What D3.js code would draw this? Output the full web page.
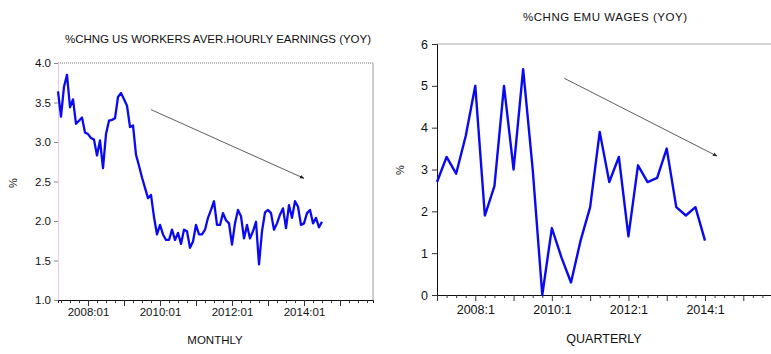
<!DOCTYPE html>
<html>
<head>
<meta charset="utf-8">
<script src="https://cdn.jsdelivr.net/npm/d3@7"></script>
<style>
  body { margin: 0; background: #fff; }
  svg { display: block; font-family: "Liberation Sans", Arial, sans-serif; }
</style>
</head>
<body>
<svg width="771" height="354"></svg>
<script>
// data: US average hourly earnings, % yoy, monthly from 2007:03
const usStart = [2007, 3];
const usEarnings = [
  3.64, 3.32, 3.70, 3.85, 3.44, 3.54, 3.23, 3.27, 3.31, 3.12,
  3.10, 3.05, 3.03, 2.83, 3.02, 2.67, 3.10, 3.27, 3.28, 3.30,
  3.57, 3.62, 3.54, 3.46, 3.19, 3.21, 2.84, 2.70, 2.55, 2.42,
  2.29, 2.33, 2.05, 1.83, 1.95, 1.83, 1.76, 1.76, 1.89, 1.76,
  1.85, 1.71, 1.89, 1.87, 1.66, 1.74, 1.95, 1.83, 1.83, 1.89,
  2.04, 2.14, 2.25, 1.95, 1.95, 2.10, 2.01, 1.97, 1.70, 1.97,
  2.14, 2.06, 1.78, 1.95, 1.78, 1.87, 1.99, 1.45, 1.87, 2.11,
  2.14, 2.10, 1.89, 1.97, 2.08, 2.16, 1.91, 2.20, 2.04, 2.25,
  2.18, 1.95, 1.97, 2.10, 2.14, 1.97, 2.04, 1.92, 1.99
];
const usYTicks = [1.0, 1.5, 2.0, 2.5, 3.0, 3.5, 4.0];
const usXLabels = ["2008:01", "2010:01", "2012:01", "2014:01"];
const usEnd = [2015, 12];
// arrow annotation, [period, value]
const usArrow = [[[2009, 10], 3.41], [[2014, 1], 2.54]];

// data: EMU wages, % yoy, quarterly from 2007:1
const emuStart = [2007, 1];
const emuWages = [
  2.7, 3.3, 2.9, 3.8, 5.0, 1.9, 2.6, 5.0, 3.0, 5.4,
  3.0, 0.0, 1.6, 0.9, 0.3, 1.3, 2.1, 3.9, 2.7, 3.3,
  1.4, 3.1, 2.7, 2.8, 3.5, 2.1, 1.9, 2.1, 1.3
];
const emuYTicks = [0, 1, 2, 3, 4, 5, 6];
const emuXLabels = ["2008:1", "2010:1", "2012:1", "2014:1"];
const emuEnd = [2015, 4];
const emuArrow = [[[2010, 2.3], 5.18], [[2014, 2.26], 3.32]];

const svg = d3.select("svg");
const blue = "#0a0af0";

// arrowhead
svg.append("defs").append("marker")
  .attr("id", "head")
  .attr("viewBox", "0 0 10 10")
  .attr("refX", 9).attr("refY", 5)
  .attr("markerWidth", 6).attr("markerHeight", 6)
  .attr("orient", "auto")
  .append("path").attr("d", "M0,1 L10,5 L0,9 z").attr("fill", "#222");

//month / quarter index helpers
const mIdx = p => (p[0] - usStart[0]) * 12 + (p[1] - usStart[1]);
const qIdx = p => (p[0] - emuStart[0]) * 4 + (p[1] - emuStart[1]);
const parseLabel = s => s.split(":").map(Number);


// ---------- left panel: monthly ----------
const xL = d3.scaleLinear().domain([0, mIdx(usEnd)]).range([58, 373]);
const yL = d3.scaleLinear().domain([1, 4]).range([300, 63]);

svg.append("text")
  .attr("x", 218).attr("y", 43)
  .attr("text-anchor", "middle")
  .attr("font-size", 11.5)
  .attr("textLength", 306)
  .attr("fill", "#111")
  .text("%CHNG US WORKERS AVER.HOURLY EARNINGS (YOY)");

// frame: dotted top, grey right
svg.append("line")
  .attr("x1", xL.range()[0]).attr("x2", xL.range()[1])
  .attr("y1", yL(4)).attr("y2", yL(4))
  .attr("stroke", "#777").attr("stroke-dasharray", "1,1");
svg.append("line")
  .attr("x1", xL.range()[1]).attr("x2", xL.range()[1])
  .attr("y1", yL(4)).attr("y2", yL(1))
  .attr("stroke", "#999");

var gyL = svg.append("g")
  .attr("transform", `translate(${xL.range()[0]},0)`)
  .call(d3.axisLeft(yL).tickValues(usYTicks).tickFormat(d3.format(".1f")).tickSize(4).tickPadding(3));
gyL.select(".domain").attr("stroke", "#e8c6ee");
gyL.selectAll(".tick line").attr("stroke", "#888");
gyL.selectAll(".tick text").attr("font-size", 11.5).attr("fill", "#111").attr("font-family", null);

var usQuarterTicks = d3.range(0, mIdx(usEnd) + 1).filter(i => ((usStart[1] - 1 + i) % 3) === 0);
var usLabelIdx = usXLabels.map(s => mIdx(parseLabel(s)));
var gxL = svg.append("g")
  .attr("transform", `translate(0,${yL(1)})`)
  .call(d3.axisBottom(xL).tickValues(usQuarterTicks).tickSizeOuter(0).tickSize(3).tickPadding(6)
    .tickFormat(i => { var k = usLabelIdx.indexOf(i); return k > -1 ? usXLabels[k] : ""; }));
gxL.select(".domain").attr("stroke", "#111");
gxL.selectAll(".tick line")
  .attr("stroke", "#333")
  .attr("y2", i => ((usStart[1] - 1 + i) % 12) === 0 ? 6 : 3);
gxL.selectAll(".tick text").attr("font-size", 11.5).attr("fill", "#111").attr("font-family", null).attr("dy", "0.65em");

svg.append("text")
  .attr("transform", `translate(17,183) rotate(-90)`)
  .attr("text-anchor", "middle").attr("font-size", 11).attr("fill", "#111")
  .text("%");
svg.append("text")
  .attr("x", 215).attr("y", 344)
  .attr("text-anchor", "middle").attr("font-size", 11.5).attr("fill", "#111")
  .text("MONTHLY");

svg.append("path")
  .datum(usEarnings)
  .attr("fill", "none")
  .attr("stroke", blue)
  .attr("stroke-width", 2.3)
  .attr("stroke-linejoin", "round")
  .attr("d", d3.line().x((d, i) => xL(i)).y(d => yL(d)));

svg.append("line")
  .attr("x1", xL(mIdx(usArrow[0][0]))).attr("y1", yL(usArrow[0][1]))
  .attr("x2", xL(mIdx(usArrow[1][0]))).attr("y2", yL(usArrow[1][1]))
  .attr("stroke", "#333").attr("stroke-width", 0.8)
  .attr("marker-end", "url(#head)");


// ---------- right panel: quarterly ----------
const xR = d3.scaleLinear().domain([0, qIdx(emuEnd)]).range([437, 772]);
const yR = d3.scaleLinear().domain([0, 6]).range([295, 44]);

svg.append("text")
  .attr("x", 605).attr("y", 21)
  .attr("text-anchor", "middle")
  .attr("font-size", 11.5)
  .attr("textLength", 164)
  .attr("fill", "#111")
  .text("%CHNG EMU WAGES (YOY)");

svg.append("line")
  .attr("x1", xR.range()[0]).attr("x2", xR.range()[1])
  .attr("y1", yR(6)).attr("y2", yR(6))
  .attr("stroke", "#aaa");

var gyR = svg.append("g")
  .attr("transform", `translate(${xR.range()[0]},0)`)
  .call(d3.axisLeft(yR).tickValues(emuYTicks).tickFormat(d3.format("d")).tickSize(5).tickPadding(4));
gyR.select(".domain").attr("stroke", "#111");
gyR.selectAll(".tick line").attr("stroke", "#333");
gyR.selectAll(".tick text").attr("font-size", 12.5).attr("fill", "#111").attr("font-family", null);

var emuTicks = d3.range(0, qIdx(emuEnd) + 1);
var emuLabelIdx = emuXLabels.map(s => qIdx(parseLabel(s)));
var gxR = svg.append("g")
  .attr("transform", `translate(0,${yR(0)})`)
  .call(d3.axisBottom(xR).tickValues(emuTicks).tickSizeOuter(0).tickSize(3).tickPadding(6)
    .tickFormat(i => { var k = emuLabelIdx.indexOf(i); return k > -1 ? emuXLabels[k] : ""; }));
gxR.select(".domain").attr("stroke", "#111");
gxR.selectAll(".tick line")
  .attr("stroke", "#333")
  .attr("y2", i => (i % 4) === 0 ? 6 : 3);
gxR.selectAll(".tick text").attr("font-size", 12.5).attr("fill", "#111").attr("font-family", null).attr("dy", "0.8em");

svg.append("text")
  .attr("transform", `translate(404,170) rotate(-90)`)
  .attr("text-anchor", "middle").attr("font-size", 11).attr("fill", "#111")
  .text("%");
svg.append("text")
  .attr("x", 604).attr("y", 343)
  .attr("text-anchor", "middle").attr("font-size", 12.5).attr("fill", "#111")
  .text("QUARTERLY");

svg.append("path")
  .datum(emuWages)
  .attr("fill", "none")
  .attr("stroke", blue)
  .attr("stroke-width", 2.4)
  .attr("stroke-linejoin", "round")
  .attr("d", d3.line().x((d, i) => xR(i)).y(d => yR(d)));

svg.append("line")
  .attr("x1", xR(qIdx(emuArrow[0][0]))).attr("y1", yR(emuArrow[0][1]))
  .attr("x2", xR(qIdx(emuArrow[1][0]))).attr("y2", yR(emuArrow[1][1]))
  .attr("stroke", "#333").attr("stroke-width", 0.8)
  .attr("marker-end", "url(#head)");
</script>
</body>
</html>
